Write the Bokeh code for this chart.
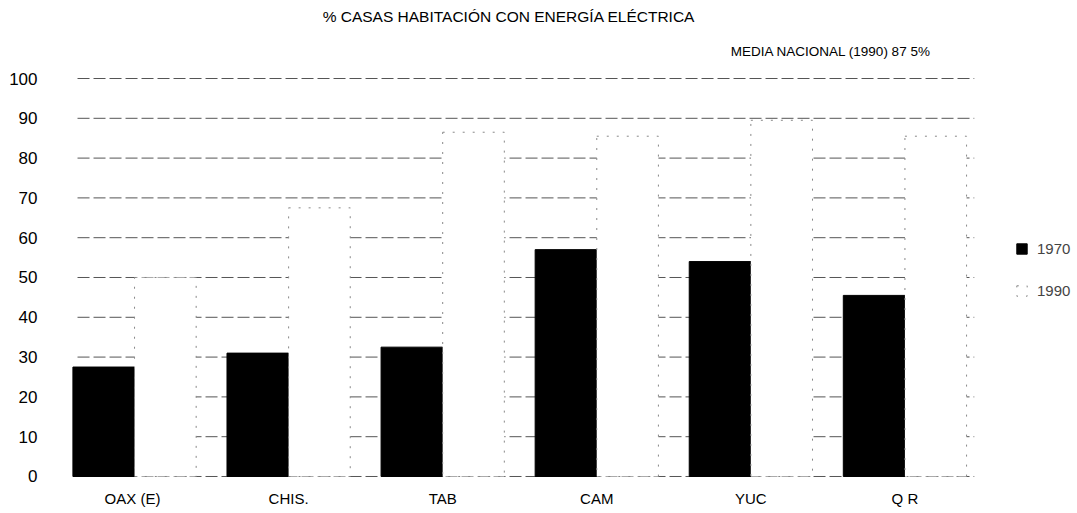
from bokeh.plotting import figure
from bokeh.models import (Range1d, FixedTicker, Label, Legend,
                          LegendItem, ColumnDataSource)
from bokeh.core.properties import value
from bokeh.transform import dodge
from bokeh.embed import file_html
from bokeh.resources import INLINE

# ---- data -------------------------------------------------------------
categories = ["OAX  (E)", "CHIS.", "TAB", "CAM", "YUC", "Q R"]
pct_1970 = [27.5, 31.0, 32.5, 57.0, 54.0, 45.5]
pct_1990 = [50.0, 67.5, 86.5, 85.5, 89.5, 85.5]
series_names = ["1970", "1990"]
y_ticks = [0, 10, 20, 30, 40, 50, 60, 70, 80, 90, 100]
title_text = "% CASAS HABITACIÓN CON ENERGÍA ELÉCTRICA"
note_text = "MEDIA NACIONAL (1990) 87 5%"

FONT = "Liberation Sans"

positions = list(range(len(categories)))
src = ColumnDataSource(dict(pos=positions, cat=categories,
                            y70=pct_1970, y90=pct_1990))

p = figure(width=1077, height=513,
           x_range=Range1d(-0.5, 6.12),
           y_range=Range1d(-9.3, 119.6),
           x_axis_location=None,
           output_backend="svg", toolbar_location=None,
           min_border_left=57, min_border_right=0,
           min_border_top=0, min_border_bottom=0)

p.outline_line_color = None
p.background_fill_color = "white"
p.border_fill_color = "white"
p.xgrid.grid_line_color = None
p.ygrid.grid_line_color = None

# horizontal grid lines, one per y tick, spanning the category area
p.segment(x0=[-0.37] * len(y_ticks), x1=[5.45] * len(y_ticks),
          y0=y_ticks, y1=y_ticks, line_color="#555555",
          line_dash="12 4", line_width=1)

# y axis
p.yaxis.ticker = FixedTicker(ticks=y_ticks)
ya = p.yaxis[0]
ya.axis_line_color = None
ya.major_tick_line_color = None
ya.minor_tick_line_color = None
ya.major_tick_out = 0
ya.major_tick_in = 0
ya.minor_tick_out = 0
ya.minor_tick_in = 0
ya.major_label_text_font = FONT
ya.major_label_text_color = "black"
ya.major_label_text_font_size = "17px"
ya.major_label_standoff = 20

# category labels under the groups
p.text(x="pos", y=-5.5, text="cat", source=src, text_align="center",
       text_baseline="middle", text_font=value(FONT),
       text_font_size="15px", text_color="black")

# bars
r70 = p.vbar(x=dodge("pos", -0.2), top="y70", bottom=0,
             width=0.4, source=src, fill_color="black", line_color="black")
r90 = p.vbar(x=dodge("pos", 0.2), top="y90", bottom=0,
             width=0.4, source=src, fill_color="white", line_color="#888888",
             line_dash="2 8", line_width=1)

# titles
p.add_layout(Label(x=2.43, y=115.6, text=title_text, text_align="center",
                   text_baseline="middle", text_font=FONT,
                   text_font_size="15.5px", text_color="black"))
p.add_layout(Label(x=3.87, y=106.8, text=note_text, text_align="left",
                   text_baseline="middle", text_font=FONT,
                   text_font_size="13.5px", text_color="black"))

# legend
legend = Legend(items=[LegendItem(label=series_names[0], renderers=[r70]),
                       LegendItem(label=series_names[1], renderers=[r90])],
                location=(958, 213), orientation="vertical",
                glyph_width=13, glyph_height=13, label_standoff=9,
                label_height=20, spacing=22, padding=0, margin=0,
                border_line_color=None, background_fill_alpha=0,
                label_text_font=FONT, label_text_font_size="15px")
p.add_layout(legend, "center")

open("out.html", "w").write(file_html(p, INLINE))
